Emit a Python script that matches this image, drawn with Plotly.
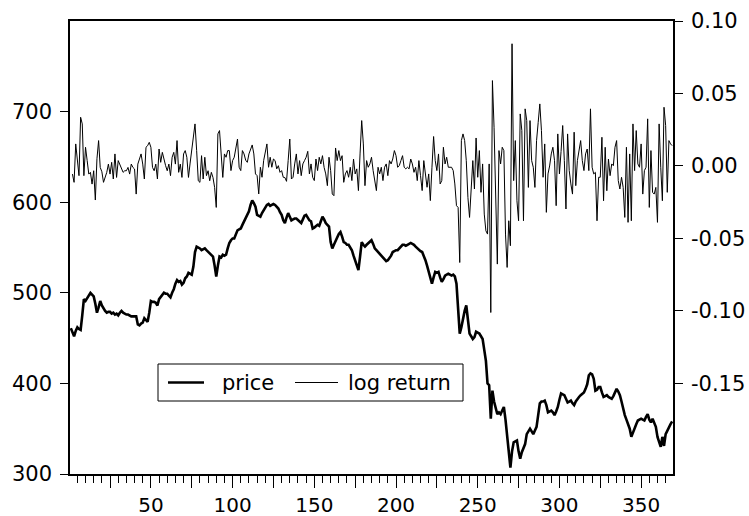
import plotly.graph_objects as go

# ---------------- data ----------------
price = [
    461, 456, 452, 458, 462, 460, 459, 475, 493, 491,
    494, 497, 500, 498, 496, 488, 478, 484, 491, 486,
    482, 480, 478, 479, 479, 477, 478, 476, 477, 475,
    478, 480, 478, 477, 476, 476, 475, 474, 474, 474,
    474, 465, 464, 466, 467, 472, 470, 468, 478, 491,
    490, 490, 489, 486, 493, 495, 498, 500, 499, 499,
    497, 495, 500, 504, 510, 514, 512, 513, 509, 511,
    516, 518, 522, 521, 520, 529, 545, 551, 550, 549,
    547, 548, 549, 547, 545, 544, 542, 540, 530, 518,
    530, 540, 539, 542, 541, 542, 549, 555, 558, 560,
    560, 565, 569, 570, 571, 575, 579, 582, 586, 590,
    597, 602, 599, 595, 586, 585, 584, 588, 591, 595,
    597, 598, 596, 597, 598, 597, 595, 593, 589, 586,
    580, 577, 583, 588, 584, 580, 581, 582, 582, 580,
    578, 577, 581, 585, 586, 583, 580, 579, 571, 572,
    574, 575, 574, 578, 584, 581, 577, 575, 573, 556,
    549, 553, 558, 561, 565, 567, 562, 556, 555, 553,
    553, 550, 547, 541, 536, 530, 525, 540, 556, 553,
    551, 553, 555, 556, 558, 554, 549, 547, 545, 543,
    541, 539, 536, 535, 536, 538, 541, 545, 546, 547,
    547, 549, 552, 553, 553, 552, 553, 554, 555, 554,
    553, 551, 549, 548, 546, 545, 541, 536, 530, 523,
    516, 510, 517, 523, 522, 523, 517, 512, 515, 519,
    520, 521, 520, 519, 520, 518, 510, 485, 455, 462,
    473, 480, 486, 470, 455, 452, 449, 451, 457, 456,
    455, 452, 449, 437, 425, 400, 398, 361, 392, 380,
    372, 366, 368, 366, 370, 374, 360, 344, 322, 307,
    325, 335, 336, 337, 325, 317, 324, 328, 333, 344,
    347, 350, 347, 344, 348, 352, 365, 378, 380, 380,
    381, 376, 368, 369, 370, 368, 365, 369, 374, 382,
    389, 388, 387, 383, 379, 380, 381, 378, 376, 380,
    383, 385, 387, 389, 390, 394, 399, 409, 411, 410,
    405, 392, 393, 396, 396, 390, 385, 386, 387, 385,
    384, 383, 386, 390, 394, 391, 387, 380, 372, 365,
    360, 355, 350, 341, 346, 352, 355, 359, 360, 361,
    360, 359, 363, 366, 360, 357, 361, 356, 352, 341,
    335, 330, 341, 331, 344, 348, 352, 355, 358,
]

log_return = [
    # obs 2 - 95
    -0.0056, -0.0113, 0.0152, 0.0060, -0.0067, 0.0336, 0.0290, -0.0067, 0.0129, 0.0037,
    -0.0056, -0.0044, -0.0125, -0.0033, -0.0235, 0.0050, 0.0175, -0.0010, -0.0040, -0.0113,
    -0.0079, -0.0044, 0.0013, -0.0056, 0.0025, -0.0090, 0.0083, -0.0079, 0.0037, 0.0013,
    -0.0020, -0.0044, -0.0033, -0.0033, -0.0010, -0.0056, 0.0013, -0.0010, -0.0021, -0.0194,
    0.0013, 0.0050, 0.0083, 0.0013, -0.0090, 0.0129, 0.0140, 0.0163, 0.0129, -0.0010,
    -0.0033, 0.0013, -0.0090, 0.0117, 0.0025, 0.0094, 0.0040, 0.0002, -0.0033, 0.0013,
    -0.0067, 0.0060, 0.0094, 0.0013, 0.0175, -0.0044, 0.0013, -0.0079, 0.0083, 0.0106,
    0.0060, -0.0079, 0.0020, 0.0117, 0.0198, 0.0290, 0.0106, -0.0102, -0.0113, 0.0071,
    -0.0090, 0.0060, -0.0067, -0.0033, -0.0102, -0.0044, -0.0080, -0.0148, -0.0286, 0.0221,
    0.0244, 0.0060, -0.0079, 0.0083,
    # obs 96 - 226
    0.0060, 0.0106, 0.0106, -0.0032, 0.0037, 0.0060, 0.0140, 0.0186, -0.0009, -0.0032,
    0.0106, 0.0083, 0.0040, 0.0025, 0.0083, 0.0120, 0.0145, 0.0083, -0.0055, -0.0067,
    -0.0193, -0.0009, -0.0078, 0.0037, 0.0100, 0.0152, -0.0009, 0.0060, -0.0009, 0.0048,
    0.0037, -0.0020, 0.0002, -0.0044, -0.0032, -0.0078, -0.0080, -0.0106, 0.0037, 0.0186,
    -0.0090, -0.0078, 0.0014, 0.0083, -0.0055, 0.0037, -0.0067, 0.0014, 0.0037, 0.0060,
    0.0101, -0.0055, 0.0014, -0.0078, -0.0101, 0.0048, -0.0032, 0.0060, 0.0014, 0.0071,
    -0.0010, -0.0055, -0.0136, 0.0060, -0.0032, -0.0193, -0.0205, 0.0124, 0.0037, 0.0106,
    0.0037, 0.0071, -0.0113, -0.0055, -0.0032, -0.0078, -0.0009, -0.0101, 0.0048, -0.0055,
    -0.0020, -0.0170, 0.0083, 0.0313, 0.0152, -0.0136, 0.0037, -0.0009, 0.0014, 0.0060,
    -0.0032, -0.0090, -0.0170, -0.0009, -0.0055, -0.0009, -0.0101, -0.0009, 0.0014, -0.0067,
    0.0037, 0.0014, 0.0048, 0.0106, 0.0071, -0.0009, 0.0002, 0.0037, 0.0071, -0.0009,
    -0.0020, -0.0009, -0.0020, 0.0048, 0.0014, -0.0044, -0.0009, -0.0101, 0.0037, -0.0067,
    -0.0170, 0.0037, -0.0078, -0.0147, -0.0055, -0.0239, -0.0009, 0.0203, 0.0037, -0.0032,
    0.0083,
    # obs 227 - 369
    -0.0124, -0.0101, 0.0129, 0.0014, 0.0060, -0.0009, -0.0009, -0.0009, -0.0032, -0.0124,
    -0.0274, -0.0286, -0.0666, 0.0175, 0.0221, 0.0175, 0.0037, -0.0217, -0.0355, -0.0171,
    0.0037, -0.0159, 0.0193, -0.0078, 0.0106, -0.0182, 0.0014, -0.0332, -0.0447, -0.0470,
    0.0014, -0.1011, 0.0589, 0.0267, -0.0148, -0.0677, 0.0106, 0.0014, 0.0129, 0.0106,
    -0.0470, -0.0700, -0.0378, -0.0550, 0.0843, -0.0101, 0.0175, -0.0240, -0.0378, 0.0359,
    0.0244, -0.0378, 0.0394, 0.0313, -0.0148, 0.0313, 0.0037, -0.0009, -0.0148, 0.0175,
    0.0300, 0.0428, 0.0244, -0.0078, 0.0152, -0.0320, -0.0055, 0.0000, 0.0083, 0.0129,
    0.0037, -0.0274, 0.0221, -0.0055, 0.0100, 0.0279, 0.0037, -0.0297, 0.0221, -0.0032,
    -0.0124, -0.0194, 0.0233, -0.0136, 0.0037, 0.0094, 0.0175, 0.0037, -0.0032, 0.0083,
    0.0117, -0.0032, 0.0394, -0.0009, -0.0055, -0.0044, -0.0378, -0.0078, -0.0078, 0.0198,
    -0.0240, 0.0129, -0.0171, 0.0048, -0.0067, 0.0014, 0.0002, 0.0129, 0.0175, -0.0101,
    -0.0159, -0.0078, -0.0148, -0.0355, 0.0129, -0.0389, 0.0083, -0.0378, 0.0290, -0.0032,
    0.0244, 0.0014, -0.0009, 0.0152, -0.0194, -0.0032, -0.0009, 0.0325, -0.0286, 0.0106,
    -0.0182, -0.0194, -0.0148, -0.0389, 0.0290, -0.0009, -0.0240, 0.0405, 0.0279, -0.0182,
    0.0175, 0.0152, 0.0140,
]

obs = list(range(1, len(price) + 1))
ret_obs = obs[len(price) - len(log_return):]

x_major_ticks = list(range(25, 370, 25))
x_tick_labels = [str(v) if v % 50 == 0 else "" for v in x_major_ticks]
left_ticks = [300, 400, 500, 600, 700]
right_ticks = [-0.15, -0.10, -0.05, 0.00, 0.05, 0.10]
right_tick_labels = ["-0.15", "-0.10", "-0.05", "0.00", "0.05", "0.10"]
series_names = ["price", "log return"]

# ---------------- figure ----------------
FONT = "DejaVu Sans"
FS = 21

fig = go.Figure()
fig.add_trace(go.Scatter(x=obs, y=price, mode="lines", name=series_names[0],
                         line=dict(color="black", width=2.6), yaxis="y"))
fig.add_trace(go.Scatter(x=ret_obs, y=log_return, mode="lines", name=series_names[1],
                         line=dict(color="black", width=1), yaxis="y2"))

fig.update_layout(
    width=749, height=516,
    margin=dict(l=70, r=76, t=21, b=42),
    paper_bgcolor="white", plot_bgcolor="white",
    showlegend=False,
    font=dict(family=FONT, size=FS, color="black"),
    xaxis=dict(
        range=[0.5, 369.5], showgrid=False, zeroline=False, automargin=False,
        showline=True, mirror=True, linecolor="black", linewidth=1.5,
        tickmode="array", tickvals=x_major_ticks, ticktext=x_tick_labels,
        ticks="outside", ticklen=12, tickwidth=1, tickcolor="black",
        minor=dict(tickmode="linear", tick0=0, dtick=5, ticks="outside",
                   ticklen=7, tickwidth=1, tickcolor="black"),
        tickfont=dict(family=FONT, size=20, color="black"),
    ),
    yaxis=dict(
        range=[300, 800], showgrid=False, zeroline=False, automargin=False,
        showline=True, linecolor="black", linewidth=1.5,
        tickmode="array", tickvals=left_ticks,
        ticks="outside", ticklen=8, tickwidth=1, tickcolor="black",
        ticklabelstandoff=4,
        tickfont=dict(family=FONT, size=FS, color="black"),
    ),
    yaxis2=dict(
        range=[-0.2125, 0.10], overlaying="y", side="right",
        showgrid=False, zeroline=False, automargin=False,
        showline=True, linecolor="black", linewidth=1.5,
        tickmode="array", tickvals=right_ticks, ticktext=right_tick_labels,
        ticks="outside", ticklen=8, tickwidth=1, tickcolor="black",
        ticklabelstandoff=4,
        tickfont=dict(family=FONT, size=FS, color="black"),
    ),
)

# ---------------- legend box (drawn inside the plot) ----------------
PW, PH = 603.0, 453.0  # plot area in px


def px(xp):
    return (xp - 70) / PW


def py(yp):
    return (474 - yp) / PH


yl = py(382.5)
fig.add_shape(type="rect", xref="paper", yref="paper",
              x0=px(158), x1=px(463), y0=py(401), y1=py(364),
              line=dict(color="black", width=1), fillcolor="white", layer="above")
fig.add_shape(type="line", xref="paper", yref="paper",
              x0=px(168), x1=px(204), y0=yl, y1=yl,
              line=dict(color="black", width=2.6), layer="above")
fig.add_shape(type="line", xref="paper", yref="paper",
              x0=px(295), x1=px(338), y0=yl, y1=yl,
              line=dict(color="black", width=1), layer="above")
fig.add_annotation(xref="paper", yref="paper", x=px(220), y=yl, text=series_names[0],
                   showarrow=False, xanchor="left", yanchor="middle",
                   font=dict(family=FONT, size=FS, color="black"))
fig.add_annotation(xref="paper", yref="paper", x=px(346), y=yl, text=series_names[1],
                   showarrow=False, xanchor="left", yanchor="middle",
                   font=dict(family=FONT, size=FS, color="black"))

fig.write_html(
    "out.html",
    config={"displayModeBar": False},
    post_script="document.body.style.margin='0px';document.body.style.overflow='hidden';",
)
